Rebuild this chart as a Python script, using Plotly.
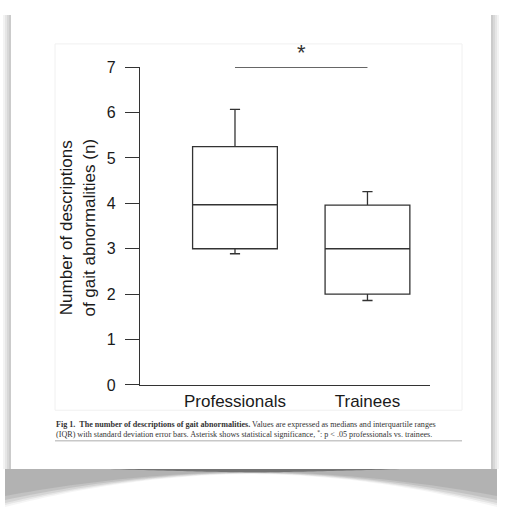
import plotly.graph_objects as go

W, H = 505, 521

# ---- data ----
groups = ["Professionals", "Trainees"]
q1 = [3.0, 2.0]
median = [3.97, 3.0]
q3 = [5.25, 3.96]
sd_low = [2.89, 1.86]
sd_high = [6.07, 4.26]
y_ticks = [0, 1, 2, 3, 4, 5, 6, 7]
sig_level = 7.0
sig_label = "*"
y_title = "Number of descriptions<br>of gait abnormalities (n)"
caption_lines = [
    "<b>Fig 1.  The number of descriptions of gait abnormalities.</b> Values are expressed as medians and interquartile ranges",
    "(IQR) with standard deviation error bars. Asterisk shows statistical significance, <sup>*</sup>: p &lt; .05 professionals vs. trainees.",
]

def px(x):
    return x / W

def py(y):
    # vertical mapping of the photographed page
    return 1 - (y - 8) / 505

fig = go.Figure()
line_col = "#333333"
for i, g in enumerate(groups):
    fig.add_trace(go.Box(
        x=[i], q1=[q1[i]], median=[median[i]], q3=[q3[i]],
        lowerfence=[sd_low[i]], upperfence=[sd_high[i]],
        width=0.64, whiskerwidth=0.12,
        fillcolor="white", line=dict(color=line_col, width=1.3),
        name=g, showlegend=False, boxpoints=False, hoverinfo="skip",
    ))

# significance bar
fig.add_trace(go.Scatter(
    x=[0, 1], y=[sig_level, sig_level], mode="lines",
    line=dict(color=line_col, width=1.4), showlegend=False, hoverinfo="skip",
))

shapes = []
# side shadows of the page
for op, d in [(0.10, 8), (0.12, 6), (0.14, 4), (0.16, 2)]:
    shapes.append(dict(type="rect", xref="paper", yref="paper",
                       x0=px(11 - d), x1=px(11), y0=py(470), y1=py(15),
                       fillcolor="#888888", opacity=op, line_width=0, layer="below"))
    shapes.append(dict(type="rect", xref="paper", yref="paper",
                       x0=px(491), x1=px(491 + d), y0=py(470), y1=py(15),
                       fillcolor="#888888", opacity=op, line_width=0, layer="below"))

# curved bottom shadow
def curve_path(depth_mid, depth_edge, x0=5, x1=497, top=470, n=60, power=1.9):
    pts = []
    for j in range(n + 1):
        x = x0 + (x1 - x0) * j / n
        t = abs((x - (x0 + x1) / 2) / ((x1 - x0) / 2))
        y = top + depth_mid + (depth_edge - depth_mid) * t ** power
        pts.append((x, y))
    p = "M {} {} ".format(px(x0), py(top))
    for x, y in pts:
        p += "L {} {} ".format(px(x), py(y))
    p += "L {} {} Z".format(px(x1), py(top))
    return p

for dm, de, op in [(5, 38, 0.08), (4.5, 36, 0.12), (4, 34, 0.16), (3.5, 31, 0.2), (3, 27, 0.22)]:
    shapes.append(dict(type="path", xref="paper", yref="paper", path=curve_path(dm, de),
                       fillcolor="#7a7a7a", opacity=op, line_width=0, layer="below"))
# dark center under the page
shapes.append(dict(type="path", xref="paper", yref="paper",
                   path=curve_path(3.5, 0, x0=110, x1=400, power=1.2),
                   fillcolor="#333333", opacity=0.5, line_width=0, layer="below"))
# page
shapes.append(dict(type="rect", xref="paper", yref="paper",
                   x0=px(11), x1=px(491), y0=py(470), y1=py(15),
                   fillcolor="white", line_width=0, layer="below"))
# inner figure panel
shapes.append(dict(type="rect", xref="paper", yref="paper",
                   x0=px(55), x1=px(462), y0=py(411), y1=py(44),
                   fillcolor="rgba(0,0,0,0)", line=dict(color="#f0f0f0", width=1), layer="below"))
# caption rule
shapes.append(dict(type="line", xref="paper", yref="paper",
                   x0=px(55), x1=px(462), y0=py(441.5), y1=py(441.5),
                   line=dict(color="#c8c8c8", width=1.5), layer="below"))

annotations = [
    dict(text=sig_label, x=0.5, y=sig_level, xref="x", yref="y", yshift=15,
         showarrow=False, font=dict(family="Liberation Sans", size=22, color="#333")),
    dict(text=y_title, x=px(78), y=py(228), xref="paper", yref="paper", textangle=-90,
         xanchor="center", yanchor="middle",
         showarrow=False, font=dict(family="Liberation Sans", size=17, color="#1a1a1a"),
         align="center"),
]
for k, (line, yy) in enumerate(zip(caption_lines, [425.7, 435.2])):
    annotations.append(dict(text=line, x=px(54), y=py(yy), xref="paper", yref="paper",
                            xanchor="left", yanchor="middle", align="left", showarrow=False,
                            font=dict(family="Liberation Serif", size=8.1, color="#333")))

fig.update_layout(
    width=W, height=H, margin=dict(l=0, r=0, t=0, b=0),
    paper_bgcolor="white", plot_bgcolor="rgba(0,0,0,0)",
    shapes=shapes, annotations=annotations,
    xaxis=dict(domain=[px(140), px(430)], range=[-0.717, 1.472],
               tickvals=[0, 1], ticktext=groups, showline=True, linecolor=line_col,
               linewidth=1.3, ticks="", showgrid=False, zeroline=False,
               tickfont=dict(family="Liberation Sans", size=17, color="#1a1a1a")),
    yaxis=dict(domain=[py(385.7), py(67.3)], range=[0, 7], tickvals=y_ticks,
               showline=True, linecolor=line_col, linewidth=1.3, ticks="outside",
               ticklen=14, tickwidth=1.3, tickcolor=line_col, showgrid=False,
               zeroline=False, ticklabelstandoff=6,
               tickfont=dict(family="Liberation Sans", size=16, color="#1a1a1a")),
)

fig.write_html("out.html", config={"displayModeBar": False},
               post_script="document.body.style.margin='0';document.body.style.overflow='hidden';")
